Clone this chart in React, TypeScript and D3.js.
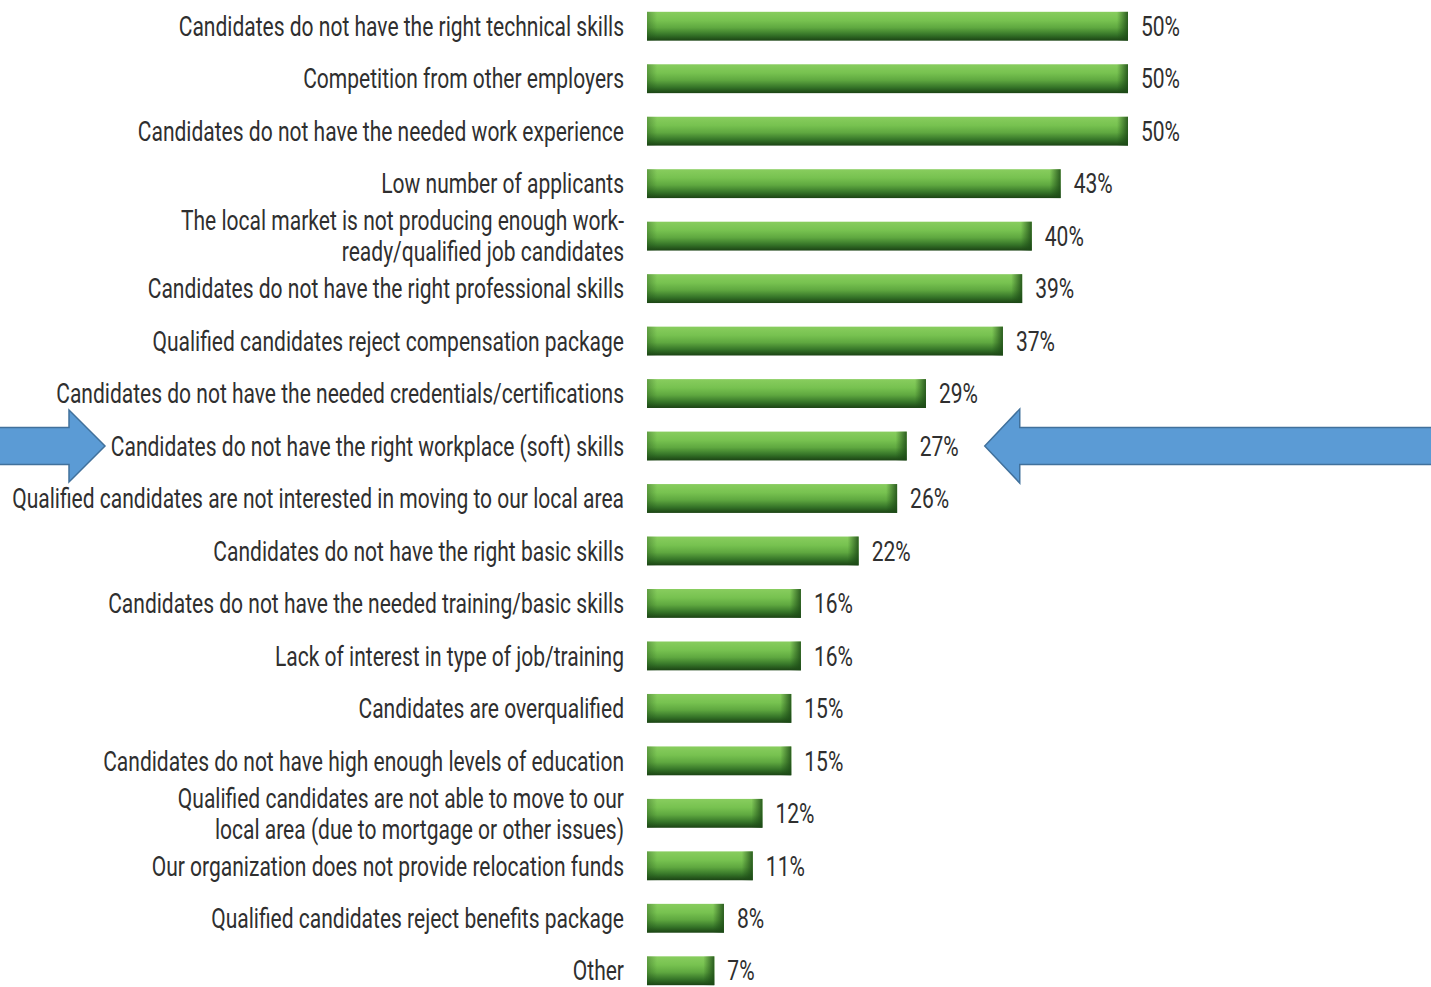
import React, { useEffect, useRef } from "react";
import * as d3 from "d3";

const categories: string[] = [
  "Candidates do not have the right technical skills",
  "Competition from other employers",
  "Candidates do not have the needed work experience",
  "Low number of applicants",
  "The local market is not producing enough work-\nready/qualified job candidates",
  "Candidates do not have the right professional skills",
  "Qualified candidates reject compensation package",
  "Candidates do not have the needed credentials/certifications",
  "Candidates do not have the right workplace (soft) skills",
  "Qualified candidates are not interested in moving to our local area",
  "Candidates do not have the right basic skills",
  "Candidates do not have the needed training/basic skills",
  "Lack of interest in type of job/training",
  "Candidates are overqualified",
  "Candidates do not have high enough levels of education",
  "Qualified candidates are not able to move to our\nlocal area (due to mortgage or other issues)",
  "Our organization does not provide relocation funds",
  "Qualified candidates reject benefits package",
  "Other",
];
const values: number[] = [50, 50, 50, 43, 40, 39, 37, 29, 27, 26, 22, 16, 16, 15, 15, 12, 11, 8, 7];
const highlighted: number[] = [8];

const W = 1431;
const H = 987;

export default function App() {
  const ref = useRef<SVGSVGElement | null>(null);

  useEffect(() => {
    const svg = d3.select(ref.current);
    svg.selectAll("*").remove();

    const defs = svg.append("defs");
    const vg = defs.append("linearGradient").attr("id", "barV").attr("x1", 0).attr("y1", 0).attr("x2", 0).attr("y2", 1);
    [
      [0, "#88cd5e"],
      [0.3, "#77c250"],
      [0.55, "#5fa840"],
      [0.8, "#357428"],
      [1, "#1b4314"],
    ].forEach(([o, c]) => vg.append("stop").attr("offset", o as number).attr("stop-color", c as string));
    const hg = defs.append("linearGradient").attr("id", "barR").attr("x1", 0).attr("y1", 0).attr("x2", 1).attr("y2", 0);
    hg.append("stop").attr("offset", 0).attr("stop-color", "#1c4a16").attr("stop-opacity", 0);
    hg.append("stop").attr("offset", 1).attr("stop-color", "#1c4a16").attr("stop-opacity", 0.85);
    const lg = defs.append("linearGradient").attr("id", "barL").attr("x1", 0).attr("y1", 0).attr("x2", 1).attr("y2", 0);
    lg.append("stop").attr("offset", 0).attr("stop-color", "#1c4a16").attr("stop-opacity", 0.35);
    lg.append("stop").attr("offset", 1).attr("stop-color", "#1c4a16").attr("stop-opacity", 0);

    const y = d3
      .scaleBand<number>()
      .domain(d3.range(categories.length))
      .range([0, 997])
      .paddingInner(0.45)
      .paddingOuter(0.225);
    const x = d3.scaleLinear().domain([0, 50]).range([647, 1128]);

    const bars = svg.append("g");
    values.forEach((v, i) => {
      const y0 = y(i)!;
      const bw = y.bandwidth();
      const x0 = x(0);
      const x1 = x(v);
      bars.append("rect").attr("x", x0).attr("y", y0).attr("width", x1 - x0).attr("height", bw).attr("fill", "url(#barV)");
      bars.append("rect").attr("x", x0).attr("y", y0).attr("width", 10).attr("height", bw).attr("fill", "url(#barL)");
      bars.append("rect").attr("x", x1 - 11).attr("y", y0).attr("width", 11).attr("height", bw).attr("fill", "url(#barR)");
    });

    const fontFamily = "Roboto, 'Liberation Sans', sans-serif";
    const fs = 27;
    const textColor = "#2f2f2f";
    const labelG = svg.append("g");
    const catTexts: any[] = [];
    categories.forEach((c, i) => {
      const cy = y(i)! + y.bandwidth() / 2;
      const lines = c.split("\n");
      const lh = 31;
      lines.forEach((ln, j) => {
        const ty = cy + (j - (lines.length - 1) / 2) * lh;
        const t = labelG
          .append("text")
          .attr("x", 0)
          .attr("y", ty)
          .attr("dy", "0.36em")
          .attr("text-anchor", "end")
          .attr("font-family", fontFamily)
          .attr("font-size", fs)
          .attr("fill", textColor)
          .text(ln);
        catTexts.push(t);
      });
    });
    let maxW = 0;
    catTexts.forEach((t) => {
      const w = (t.node() as SVGTextElement).getComputedTextLength();
      if (w > maxW) maxW = w;
    });
    const k = maxW > 0 ? 612 / maxW : 0.68;
    labelG.attr("transform", `translate(624,0) scale(${k},1)`);

    const valG = svg.append("g");
    values.forEach((v, i) => {
      const cy = y(i)! + y.bandwidth() / 2;
      const g = valG.append("g").attr("transform", `translate(${x(v) + 13},0) scale(${k},1)`);
      g.append("text")
        .attr("x", 0)
        .attr("y", cy)
        .attr("dy", "0.36em")
        .attr("font-family", fontFamily)
        .attr("font-size", fs)
        .attr("fill", textColor)
        .text(`${v}%`);
    });

    // highlight arrows
    highlighted.forEach((i) => {
      const cy = y(i)! + y.bandwidth() / 2;
      const st = "#41719c";
      const fill = "#5b9bd5";
      const sh = 18.5;
      const hh = 36;
      // left arrow pointing right
      const tipL = 105;
      const baseL = 69;
      const left = d3.path();
      left.moveTo(-2, cy - sh);
      left.lineTo(baseL, cy - sh);
      left.lineTo(baseL, cy - hh);
      left.lineTo(tipL, cy);
      left.lineTo(baseL, cy + hh);
      left.lineTo(baseL, cy + sh);
      left.lineTo(-2, cy + sh);
      left.closePath();
      svg.append("path").attr("d", left.toString()).attr("fill", fill).attr("stroke", st).attr("stroke-width", 1.5);
      // right arrow pointing left
      const vx = x(values[i]);
      const tipR = vx + 78;
      const baseR = tipR + 35;
      const right = d3.path();
      right.moveTo(W + 2, cy - sh);
      right.lineTo(baseR, cy - sh);
      right.lineTo(baseR, cy - hh - 1);
      right.lineTo(tipR, cy);
      right.lineTo(baseR, cy + hh + 1);
      right.lineTo(baseR, cy + sh);
      right.lineTo(W + 2, cy + sh);
      right.closePath();
      svg.append("path").attr("d", right.toString()).attr("fill", fill).attr("stroke", st).attr("stroke-width", 1.5);
    });
  }, []);

  return (
    <svg
      ref={ref}
      width={W}
      height={H}
      style={{ position: "absolute", left: 0, top: 0, background: "#ffffff" }}
    />
  );
}
